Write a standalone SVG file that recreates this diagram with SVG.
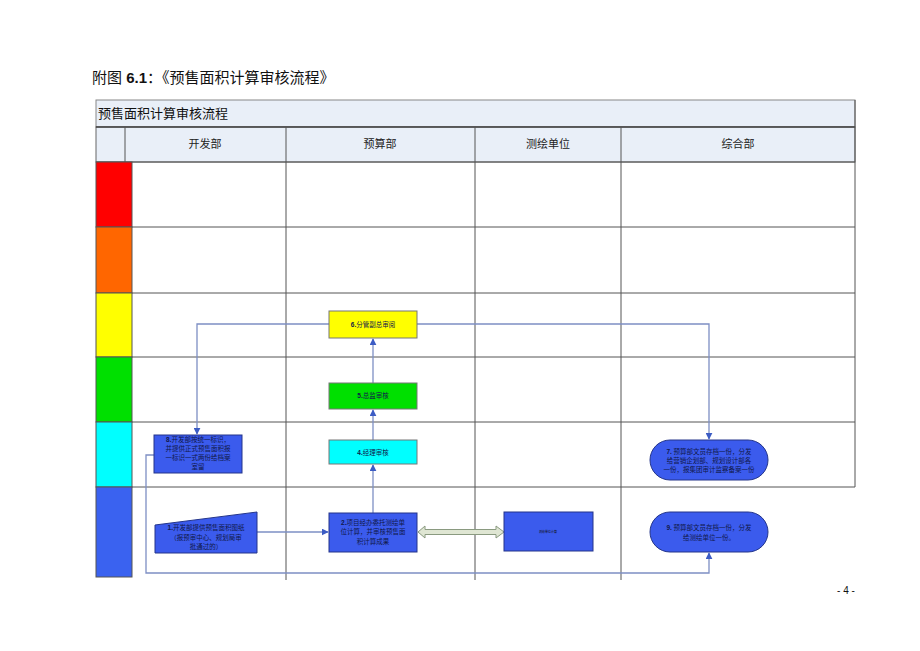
<svg xmlns="http://www.w3.org/2000/svg" width="920" height="651" viewBox="0 0 920 651">
<style>
  .t{font-family:"Liberation Sans","Noto Sans CJK SC",sans-serif;fill:#111}
  .hdr{font-size:11px;text-anchor:middle;fill:#222}
  .grid{stroke:#555;stroke-width:1;fill:none}
  .conn{stroke:#7d8fc4;stroke-width:1.3;fill:none}
  .blue{fill:#3b5bed;stroke:#24358a;stroke-width:1}
  .nt{font-size:6.5px;text-anchor:middle;fill:#10184a}
</style>
<defs>
  <marker id="ah" viewBox="0 0 10 10" refX="9" refY="5" markerWidth="7" markerHeight="7" orient="auto-start-reverse" markerUnits="userSpaceOnUse">
    <path d="M0,0 L10,5 L0,10 z" fill="#3c5cc4"/>
  </marker>
</defs>
<rect width="920" height="651" fill="#fff"/>

<text class="t" x="92" y="83" font-size="15">附图 <tspan font-weight="bold">6.1</tspan>：《预售面积计算审核流程》</text>

<g id="table">
  <rect x="96" y="100" width="759" height="27" fill="#e9eff8" stroke="#888"/>
  <rect x="96" y="127" width="759" height="35" fill="#e9eff8" stroke="#666"/>
  <line x1="96" y1="127" x2="855" y2="127" stroke="#444" stroke-width="1.5"/>
  <text class="t" x="98" y="118" font-size="13">预售面积计算审核流程</text>
  <line class="grid" x1="125" y1="127" x2="125" y2="162"/>
  <text class="t hdr" x="205" y="148">开发部</text>
  <text class="t hdr" x="380" y="148">预算部</text>
  <text class="t hdr" x="548" y="148">测绘单位</text>
  <text class="t hdr" x="738" y="148">综合部</text>
  <line class="grid" x1="286" y1="127" x2="286" y2="580"/>
  <line class="grid" x1="475" y1="127" x2="475" y2="580"/>
  <line class="grid" x1="621" y1="127" x2="621" y2="580"/>
  <line class="grid" x1="855" y1="100" x2="855" y2="487"/>
  <line class="grid" x1="96" y1="162" x2="855" y2="162"/>
  <line class="grid" x1="132" y1="227" x2="855" y2="227"/>
  <line class="grid" x1="132" y1="293" x2="855" y2="293"/>
  <line class="grid" x1="132" y1="357" x2="855" y2="357"/>
  <line class="grid" x1="132" y1="422" x2="855" y2="422"/>
  <line class="grid" x1="132" y1="487" x2="855" y2="487"/>
  <rect x="96" y="162" width="36" height="65" fill="#ff0000" stroke="#555"/>
  <rect x="96" y="227" width="36" height="66" fill="#ff6600" stroke="#555"/>
  <rect x="96" y="293" width="36" height="64" fill="#ffff00" stroke="#555"/>
  <rect x="96" y="357" width="36" height="65" fill="#00e000" stroke="#555"/>
  <rect x="96" y="422" width="36" height="65" fill="#00ffff" stroke="#555"/>
  <rect x="96" y="487" width="36" height="90" fill="#3a62f0" stroke="#555"/>
</g>

<g id="connectors">
  <line class="conn" x1="257" y1="532" x2="328" y2="532" marker-end="url(#ah)"/>
  <line class="conn" x1="373" y1="513" x2="373" y2="465" marker-end="url(#ah)"/>
  <line class="conn" x1="373" y1="440" x2="373" y2="410" marker-end="url(#ah)"/>
  <line class="conn" x1="373" y1="383" x2="373" y2="339" marker-end="url(#ah)"/>
  <polyline class="conn" points="329,324 197,324 197,434" marker-end="url(#ah)"/>
  <polyline class="conn" points="417,324 709,324 709,439" marker-end="url(#ah)"/>
  <polyline class="conn" points="154,455 146,455 146,573 709,573 709,553" marker-end="url(#ah)"/>
  <path d="M418,532 L425,526 L425,529.5 L496,529.5 L496,526 L504,532 L496,538 L496,534.5 L425,534.5 L425,538 Z" fill="#dfe6d3" stroke="#8a9a80" stroke-width="1"/>
</g>

<g id="n6">
  <rect x="329" y="311" width="88" height="27" fill="#ffff00" stroke="#777"/>
  <text class="t nt" x="373" y="327"><tspan font-weight="bold">6.</tspan>分管副总审阅</text>
</g>
<g id="n5">
  <rect x="329" y="383" width="88" height="26" fill="#00e000" stroke="#777"/>
  <text class="t nt" x="373" y="398"><tspan font-weight="bold">5.</tspan>总监审核</text>
</g>
<g id="n4">
  <rect x="329" y="440" width="88" height="24" fill="#00ffff" stroke="#777"/>
  <text class="t nt" x="373" y="455"><tspan font-weight="bold">4.</tspan>经理审核</text>
</g>
<g id="n2">
  <rect class="blue" x="329" y="513" width="88" height="39"/>
  <text class="t nt" x="373" y="525"><tspan font-weight="bold">2.</tspan>项目经办委托测绘单</text>
  <text class="t nt" x="373" y="534">位计算，并审核预售面</text>
  <text class="t nt" x="373" y="544">积计算成果</text>
</g>
<g id="n3">
  <rect class="blue" x="504" y="512" width="89" height="39"/>
  <text class="t" x="548" y="533" font-size="3" text-anchor="middle" fill="#10184a">测绘单位计算</text>
</g>
<g id="n8">
  <rect class="blue" x="154" y="435" width="88" height="38"/>
  <text class="t nt" x="198" y="442"><tspan font-weight="bold">8.</tspan>开发部按统一标识，</text>
  <text class="t nt" x="198" y="451">并提供正式预售面积报</text>
  <text class="t nt" x="198" y="460">一标识一式两份给档案</text>
  <text class="t nt" x="198" y="469">室留</text>
</g>
<g id="n1">
  <path class="blue" d="M155,525 L257,512 L257,553 L155,553 Z"/>
  <text class="t nt" x="206" y="530"><tspan font-weight="bold">1.</tspan>开发部提供预售面积图纸</text>
  <text class="t nt" x="206" y="540">（报预审中心、规划局审</text>
  <text class="t nt" x="206" y="549">批通过的）</text>
</g>
<g id="n7">
  <rect class="blue" x="650" y="440" width="118" height="40" rx="20"/>
  <text class="t nt" x="709" y="454"><tspan font-weight="bold">7.</tspan> 预算部文员存档一份，分发</text>
  <text class="t nt" x="709" y="463">给营销企划部、规划设计部各</text>
  <text class="t nt" x="709" y="472">一份，报集团审计监察备案一份</text>
</g>
<g id="n9">
  <rect class="blue" x="650" y="512" width="118" height="40" rx="20"/>
  <text class="t nt" x="709" y="530"><tspan font-weight="bold">9.</tspan> 预算部文员存档一份，分发</text>
  <text class="t nt" x="709" y="540">给测绘单位一份。</text>
</g>

<text class="t" x="846" y="594" font-size="10" text-anchor="middle">- 4 -</text>
</svg>
